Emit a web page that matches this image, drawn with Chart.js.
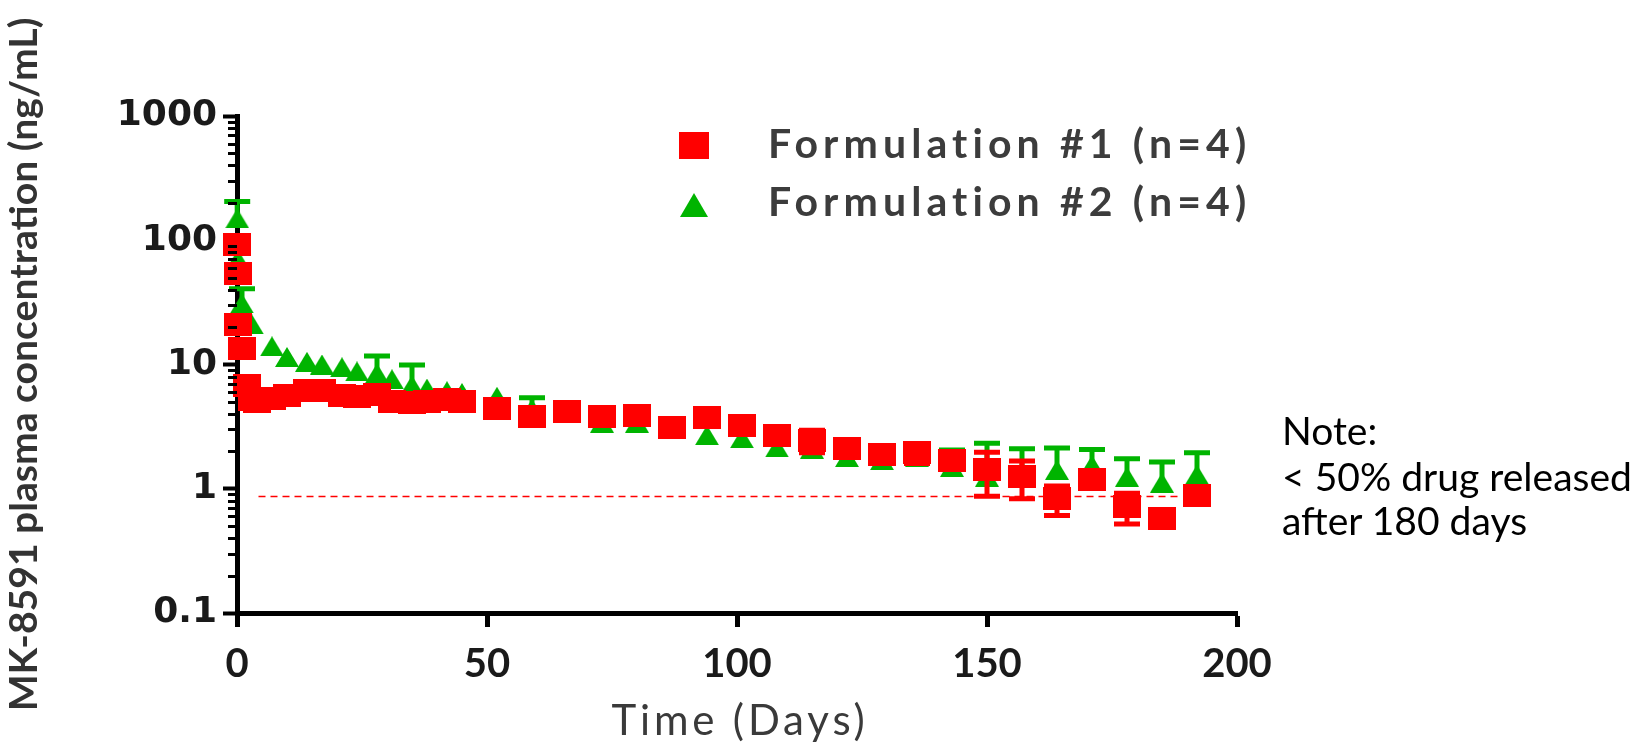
<!DOCTYPE html>
<html><head><meta charset="utf-8">
<script src="https://cdn.jsdelivr.net/npm/chart.js@4.4.0/dist/chart.umd.min.js"></script>
<style>
html,body{margin:0;padding:0;background:#fff;}
#wrap{position:relative;width:1637px;height:742px;overflow:hidden;background:#fff;}
#c{position:absolute;left:0;top:0;width:1637px;height:742px;}
.lg{position:absolute;white-space:nowrap;font-family:Lato,sans-serif;font-weight:700;color:#3c3c3c;}
.note{position:absolute;left:1282px;white-space:nowrap;font-family:Lato,sans-serif;font-weight:400;color:#000;}
#xt{position:absolute;white-space:nowrap;font-family:Lato,sans-serif;font-weight:400;color:#3a3a3a;}
</style></head><body>
<div id="wrap">
<canvas id="c" width="1637" height="742"></canvas>
<div id="sq" style="position:absolute;left:679px;top:132px;width:30px;height:27px;background:#ff0000"></div>
<div id="tri" style="position:absolute;left:680px;top:193px;width:0;height:0;border-left:14px solid transparent;border-right:14px solid transparent;border-bottom:24px solid #00b400"></div>
<div class="lg" id="lg1"></div>
<div class="lg" id="lg2"></div>
<div id="xt"></div>
<div class="note" id="n1">Note:</div>
<div class="note" id="n2">&lt; 50% drug released</div>
<div class="note" id="n3">after 180 days</div>
</div>
<script>
// ---- data ----
const redDays = [0.04,0.17,0.25,1,2,3,4,7,10,14,17,21,24,28,31,35,38,42,45,52,59,66,73,80,87,94,101,108,115,122,129,136,143,150,157,164,171,178,185,192];
const redValues = [92,54,21,13.5,6.8,5.2,5.0,5.3,5.6,6.2,6.2,5.6,5.5,5.7,5.0,4.9,5.0,5.2,5.0,4.4,3.8,4.15,3.8,3.9,3.1,3.75,3.25,2.7,2.45,2.1,1.9,1.95,1.7,1.42,1.25,0.83,1.18,0.72,0.58,0.88];
const redSD = [0,0,0,0,0,0,0,0,0,0,0,0,0,0,0,0,0,0,0,0,0,0,0,0,0,0.45,0.35,0,0.5,0.3,0.3,0.35,0,0.55,0.42,0.22,0,0.2,0,0];

const greenDays = [0.04,0.17,1,3,7,10,14,17,21,24,28,31,35,38,42,45,52,59,66,73,80,87,94,101,108,115,122,129,136,143,150,157,164,171,178,185,192];
const greenValues = [150,70,31,21,14,11.5,10.5,10,9.5,8.8,8.5,7.6,6.8,6.4,6.1,5.9,5.5,4.4,4.2,3.4,3.4,3.0,2.7,2.55,2.15,2.1,1.8,1.7,1.8,1.5,1.25,1.3,1.42,1.55,1.25,1.12,1.3];
const greenSD = [55,0,9.7,0,0,0,0,0,0,0,3.2,0,3.1,0,0,0,0,1.0,0,0,0,0,0,0,0,0,0,0,0,0.55,1.07,0.8,0.71,0.52,0.49,0.52,0.65];

const refLineDays = [4.3, 188.9];
const refLineValues = [0.865, 0.865];

const yTickValues = [0.1, 1, 10, 100, 1000];
const yTickLabels = ['0.1', '1', '10', '100', '1000'];
const yMinorFactors = [2,3,4,5,6,7,8,9];
const xTickValues = [0, 50, 100, 150, 200];

const seriesNames = ['Formulation #1 (n=4)', 'Formulation #2 (n=4)'];
const xTitle = 'Time (Days)';
const yTitle = 'MK-8591 plasma concentration (ng/mL)';

// ---- helpers ----
const mctx = document.createElement('canvas').getContext('2d');
function textWidth(text, weight, size) {
  mctx.font = weight + ' ' + size + 'px Lato';
  return mctx.measureText(text).width;
}
function fitSize(text, weight, target) {
  return 100 * target / textWidth(text, weight, 100);
}
function spaced(id, text, weight, size, target, cx, left, cy) {
  const el = document.getElementById(id);
  el.textContent = text;
  const w = textWidth(text, weight, size);
  const ls = Math.max(0, (target - w) / text.length);
  el.style.fontSize = size + 'px';
  el.style.lineHeight = size + 'px';
  el.style.letterSpacing = ls + 'px';
  el.style.left = (left != null ? left : cx - target / 2) + 'px';
  el.style.top = (cy - size * 0.52) + 'px';
}
function marker(w, h, color, shape) {
  const c = document.createElement('canvas'); c.width = w; c.height = h;
  const g = c.getContext('2d'); g.fillStyle = color;
  if (shape === 'rect') g.fillRect(0, 0, w, h);
  else { g.beginPath(); g.moveTo(w/2, 0); g.lineTo(w, h); g.lineTo(0, h); g.closePath(); g.fill(); }
  return c;
}
const RED = '#ff0000', GREEN = '#00b400';

spaced('lg1', seriesNames[0], 700, 41, 484, null, 768, 143);
spaced('lg2', seriesNames[1], 700, 41, 484, null, 768, 201);
spaced('xt', xTitle, 400, 42, 257, 740, null, 720);
const ns = fitSize('< 50% drug released', 400, 350);
['n1','n2','n3'].forEach((id, i) => {
  const el = document.getElementById(id);
  el.style.fontSize = ns + 'px'; el.style.lineHeight = ns + 'px';
  el.style.top = ([430, 476, 520][i] - ns * 0.52) + 'px';
});

const yTitleSize = fitSize(yTitle, 'bold', 694);

const errorBars = {
  id: 'errorBars',
  beforeDatasetDraw(chart, args) {
    const ds = chart.data.datasets[args.index];
    if (!ds.errors) return;
    const ctx = chart.ctx, ys = chart.scales.y;
    ctx.save();
    ctx.strokeStyle = ds.errColor; ctx.lineWidth = 5; ctx.lineCap = 'butt';
    args.meta.data.forEach((pt, i) => {
      const e = ds.errors[i];
      if (!e) return;
      const v = ds.data[i].y;
      const yt = ys.getPixelForValue(v + e);
      const yb = ds.errUpOnly ? pt.y : ys.getPixelForValue(Math.max(v - e, 0.02));
      const hw = 13;
      ctx.beginPath();
      ctx.moveTo(pt.x, yt); ctx.lineTo(pt.x, yb);
      ctx.moveTo(pt.x - hw, yt); ctx.lineTo(pt.x + hw, yt);
      if (!ds.errUpOnly) { ctx.moveTo(pt.x - hw, yb); ctx.lineTo(pt.x + hw, yb); }
      ctx.stroke();
    });
    ctx.restore();
  }
};
const minorTicks = {
  id: 'minorTicks',
  afterDraw(chart) {
    const ys = chart.scales.y, ctx = chart.ctx;
    const x = chart.chartArea.left;
    ctx.save(); ctx.strokeStyle = '#000'; ctx.lineWidth = 3;
    yTickValues.slice(0, -1).forEach(d => {
      yMinorFactors.forEach(k => {
        const y = Math.round(ys.getPixelForValue(d * k)) + 0.5;
        ctx.beginPath(); ctx.moveTo(x - 9, y); ctx.lineTo(x, y); ctx.stroke();
      });
    });
    ctx.restore();
  }
};

new Chart(document.getElementById('c'), {
  type: 'scatter',
  data: {
    datasets: [
      { label: seriesNames[0], data: redDays.map((d, i) => ({x: d, y: redValues[i]})),
        pointStyle: marker(28, 23, RED, 'rect'), errors: redSD, errColor: RED,
        showLine: false, clip: false, order: 0 },
      { label: seriesNames[1], data: greenDays.map((d, i) => ({x: d, y: greenValues[i]})),
        pointStyle: marker(24, 20, GREEN, 'tri'), errors: greenSD, errColor: GREEN, errUpOnly: true,
        showLine: false, clip: false, order: 1 },
      { type: 'line', label: 'ref', data: refLineDays.map((d, i) => ({x: d, y: refLineValues[i]})),
        borderColor: RED, borderWidth: 1.5, borderDash: [7, 5], pointRadius: 0, fill: false, order: 2 }
    ]
  },
  options: {
    responsive: false, animation: false, events: [],
    layout: { padding: { left: 0, top: 116, right: 400, bottom: 0 } },
    plugins: { legend: { display: false }, tooltip: { enabled: false } },
    scales: {
      x: {
        type: 'linear', min: 0, max: 200,
        afterBuildTicks: s => { s.ticks = xTickValues.map(v => ({value: v})); },
        afterFit: s => { s.height = 129; },
        ticks: { font: { family: 'Lato', weight: 'bold', size: 40, lineHeight: 1 }, color: '#1a1a1a', padding: 17 },
        grid: { drawOnChartArea: false, drawTicks: true, tickLength: 14, tickWidth: 5, tickColor: '#000' },
        border: { display: true, width: 5, color: '#000' },
        title: { display: false }
      },
      y: {
        type: 'logarithmic', min: 0.1, max: 1000,
        afterBuildTicks: s => { s.ticks = yTickValues.map(v => ({value: v})); },
        afterFit: s => { s.width = 237; },
        ticks: { font: { family: 'DejaVu Sans', weight: 'bold', size: 36 }, color: '#1a1a1a', padding: 6,
          callback: (v) => { const i = yTickValues.indexOf(v); return i >= 0 ? yTickLabels[i] : ''; } },
        grid: { drawOnChartArea: false, drawTicks: true, tickLength: 14, tickWidth: 4, tickColor: '#000' },
        border: { display: true, width: 5, color: '#000' },
        title: { display: true, text: yTitle, color: '#333',
          font: { family: 'Lato', weight: 'bold', size: yTitleSize, lineHeight: 1 },
          padding: { top: Math.max(0, 24 - yTitleSize / 2), bottom: 0 } }
      }
    }
  },
  plugins: [errorBars, minorTicks]
});
</script>
</body></html>
